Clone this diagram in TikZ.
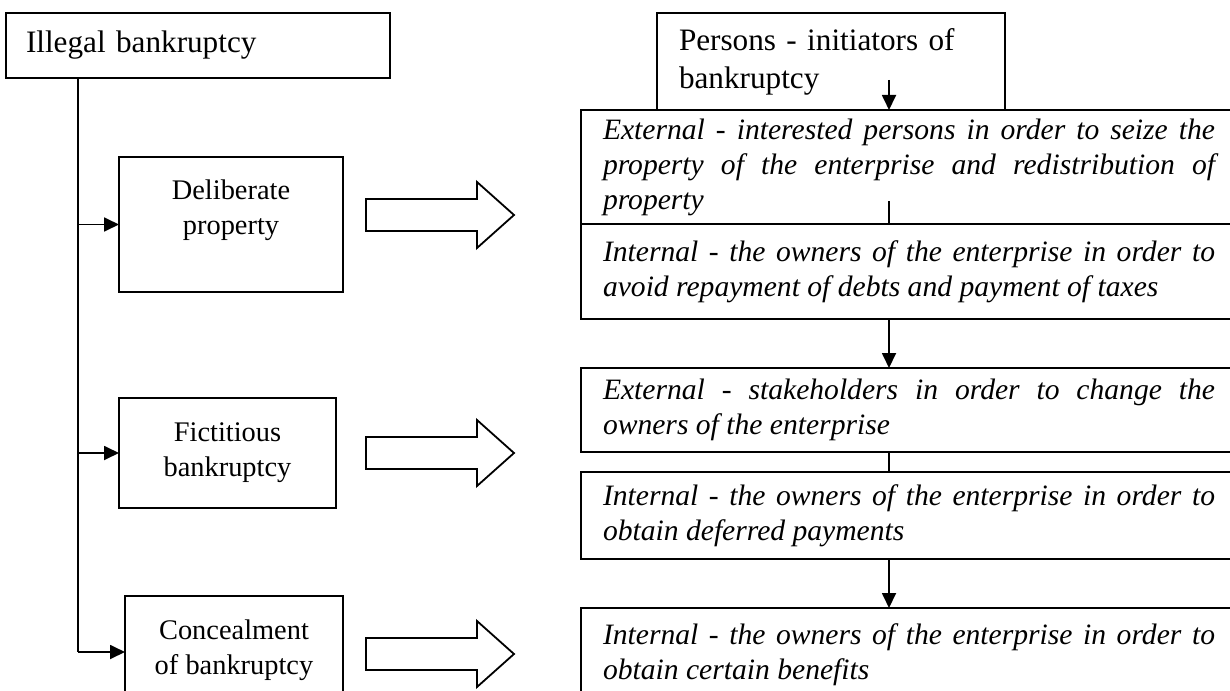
\documentclass[tikz,border=0pt]{standalone}
\usepackage{fontspec}
\setmainfont{Liberation Serif}
\usetikzlibrary{arrows.meta,calc}
\tikzset{
  box/.style={draw, line width=0.9pt, rectangle, inner ysep=0pt, outer sep=0pt, anchor=north west,
    font=\fontsize{14.2}{17.5}\selectfont},
  rbox/.style={box, inner xsep=11pt, text width=306pt, align=justify, minimum width=328pt,
    font=\fontsize{14.8}{17.5}\selectfont\itshape},
  lbox/.style={box, align=center},
  line/.style={line width=0.9pt},
  arr/.style={line, -{Triangle[length=7.5pt,width=7pt]}},
  barrow/.pic={\draw[line] (0,-16)--(111,-16)--(111,-33)--(148,0)--(111,33)--(111,16)--(0,16)--cycle;}
}
\begin{document}
\begin{tikzpicture}[x=0.5pt,y=-0.5pt]
\useasboundingbox (0,0) rectangle (1230,690);
% top boxes
\node[box, inner xsep=10pt, text width=172pt, align=left, minimum height=32.5pt,
  font=\fontsize{15.6}{19}\selectfont] (ill) at (6,13) {Illegal bankruptcy};
\node[box, inner xsep=11pt, text width=152pt, align=left, minimum height=48.5pt,
  font=\fontsize{15.6}{19}\selectfont] (per) at (657,13) {Persons - initiators of\\bankruptcy};
% right boxes
\node[rbox, minimum height=57pt] (e1) at (581,110) {External - interested persons in order to seize the\linebreak property of the enterprise and redistribution of\linebreak property};
\node[rbox, minimum height=47.5pt] (i1) at (581,224) {Internal - the owners of the enterprise in order to\linebreak avoid repayment of debts and payment of taxes};
\node[rbox, minimum height=42pt] (e2) at (581,368) {External - stakeholders in order to change the\linebreak owners of the enterprise};
\node[rbox, minimum height=43.5pt] (i2) at (581,472) {Internal - the owners of the enterprise in order to\linebreak obtain deferred payments};
\node[rbox, minimum height=46.5pt] (i3) at (581,608) {Internal - the owners of the enterprise in order to\linebreak obtain certain benefits};
% left boxes
\node[lbox, minimum width=112pt, minimum height=67.5pt] (del) at (119,157) {Deliberate\\property\\\mbox{}};
\node[lbox, minimum width=108.5pt, minimum height=55pt] (fic) at (119,398) {Fictitious\\bankruptcy};
\node[lbox, minimum width=109pt, minimum height=56pt] (con) at (125,596) {Concealment\\of bankruptcy\\[-13pt]\mbox{}};
% trunk and branches
\coordinate (t0) at ($(ill.south west)+(72,0)$);
\draw[line] (t0) -- (t0 |- con.west);
\draw[arr] (t0 |- del.west) -- (del.west);
\draw[arr] (t0 |- fic.west) -- (fic.west);
\draw[arr] (t0 |- con.west) -- (con.west);
% block arrows
\pic at (366,215) {barrow};
\pic at (366,453) {barrow};
\pic at (366,654) {barrow};
% right column connectors
\coordinate (pa) at (889,80);
\coordinate (q1) at (889,201);
\draw[arr] (pa) -- (pa |- e1.north);
\draw[line] (q1) -- (q1 |- i1.north);
\draw[arr] (i1.south -| pa) -- (e2.north -| pa);
\draw[line] (e2.south -| pa) -- (i2.north -| pa);
\draw[arr] (i2.south -| pa) -- (i3.north -| pa);
\end{tikzpicture}
\end{document}
